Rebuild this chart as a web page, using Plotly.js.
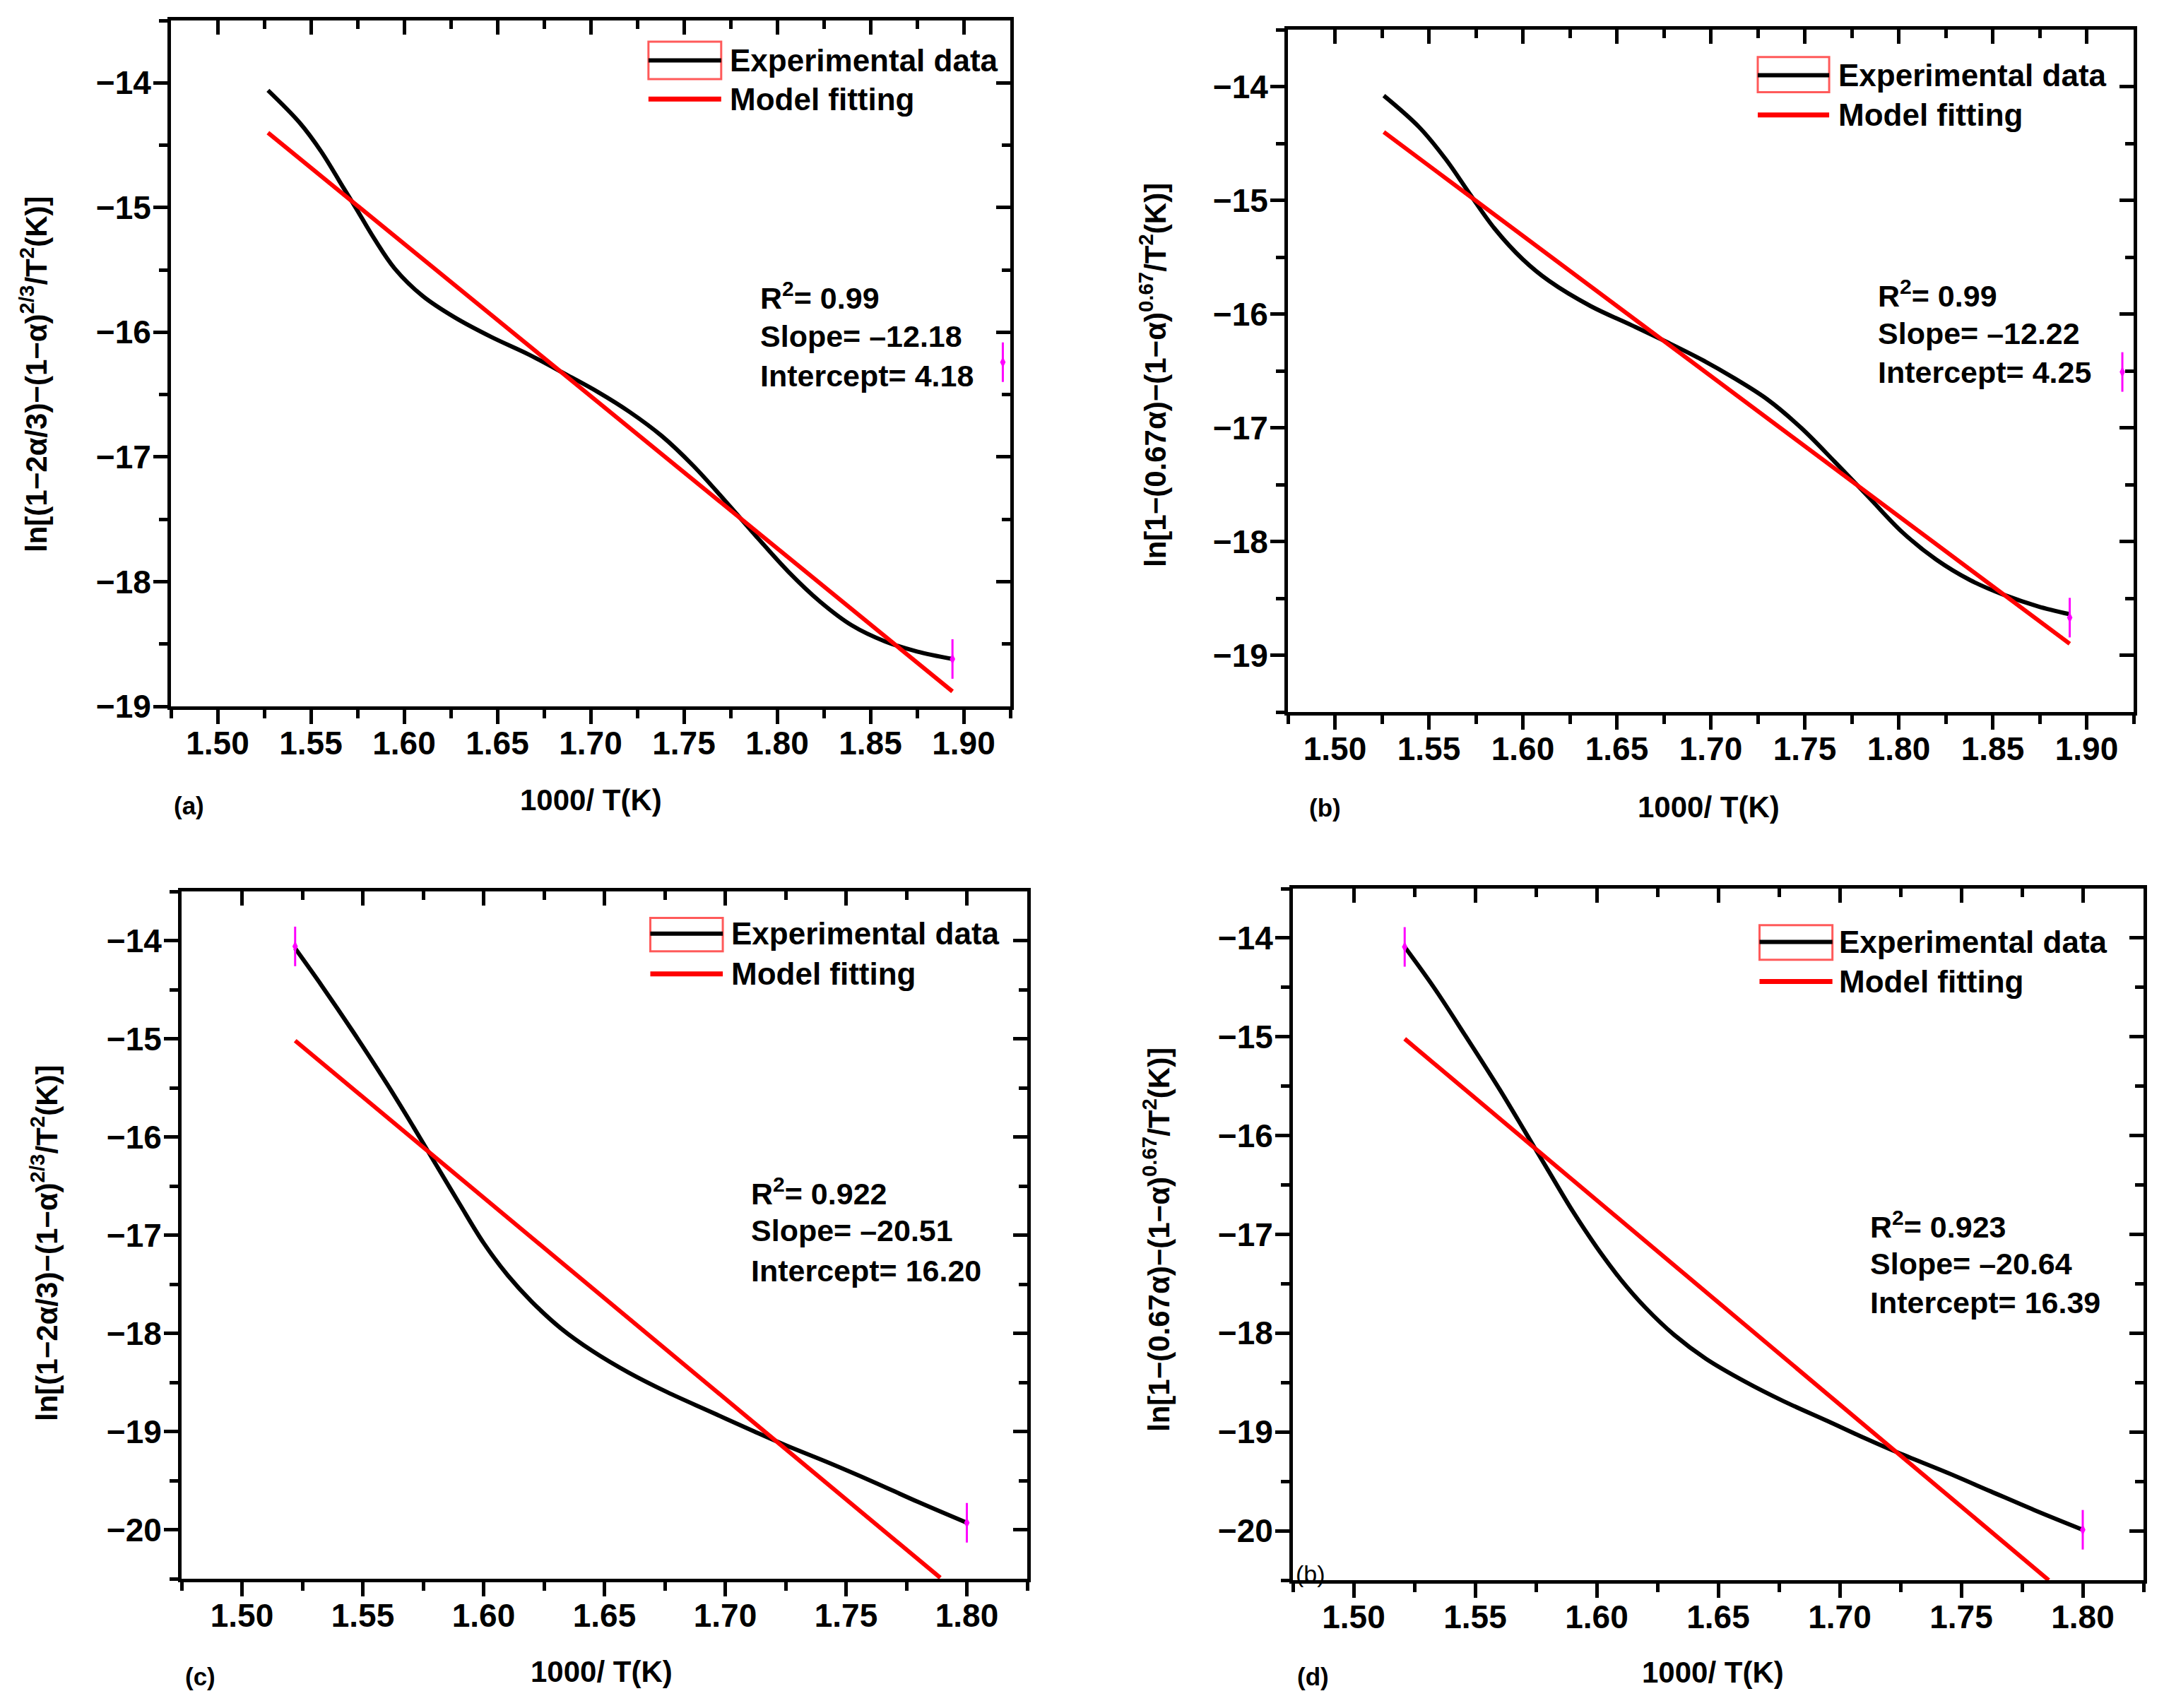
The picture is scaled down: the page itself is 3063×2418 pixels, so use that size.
<!DOCTYPE html>
<html>
<head>
<meta charset="utf-8">
<script src="https://cdn.plot.ly/plotly-3.0.1.min.js"></script>
<style>
  html, body { margin: 0; padding: 0; background: #fff; }
  #chart { width: 3063px; height: 2418px; }
</style>
</head>
<body>
<div id="chart"></div>
<script>
// four kinetic-model fits, Origin-style panels (a)-(d)

// ── data ──
const aX = [1.527, 1.544, 1.5555, 1.567, 1.574, 1.584, 1.595, 1.610, 1.627, 1.647, 1.667, 1.687, 1.704, 1.721, 1.738, 1.755, 1.772, 1.789, 1.806, 1.823, 1.840, 1.858, 1.875, 1.894];
const aExp = [-14.06, -14.32, -14.55, -14.83, -15.00, -15.25, -15.49, -15.71, -15.88, -16.04, -16.18, -16.34, -16.48, -16.64, -16.83, -17.07, -17.35, -17.64, -17.92, -18.16, -18.35, -18.48, -18.56, -18.62];
const aFitX = [1.527, 1.894];
const aFit = [-14.40, -18.88];
const aMarkX = [1.894, 1.921];
const aMarkY = [-18.62, -16.24];

const bX = [1.526, 1.545, 1.559, 1.572, 1.585, 1.600, 1.614, 1.636, 1.658, 1.677, 1.695, 1.712, 1.730, 1.748, 1.766, 1.784, 1.802, 1.820, 1.838, 1.856, 1.874, 1.891];
const bExp = [-14.08, -14.36, -14.64, -14.95, -15.25, -15.52, -15.71, -15.93, -16.10, -16.25, -16.40, -16.56, -16.75, -17.00, -17.30, -17.61, -17.92, -18.16, -18.34, -18.47, -18.57, -18.64];
const bFitX = [1.526, 1.891];
const bFit = [-14.40, -18.90];
const bMarkX = [1.891, 1.919];
const bMarkY = [-18.67, -16.51];

const cX = [1.522, 1.533, 1.546, 1.560, 1.571, 1.580, 1.590, 1.600, 1.610, 1.620, 1.632, 1.645, 1.660, 1.676, 1.694, 1.712, 1.725, 1.743, 1.761, 1.780, 1.800];
const cExp = [-14.08, -14.46, -14.93, -15.46, -15.90, -16.27, -16.68, -17.08, -17.41, -17.68, -17.95, -18.18, -18.40, -18.60, -18.80, -19.00, -19.14, -19.32, -19.51, -19.72, -19.93];
const cFitX = [1.522, 1.789];
const cFit = [-15.02, -20.49];
const cMarkX = [1.522, 1.800];
const cMarkY = [-14.06, -19.93];

const dX = [1.521, 1.533, 1.546, 1.560, 1.571, 1.580, 1.590, 1.600, 1.610, 1.620, 1.632, 1.645, 1.661, 1.677, 1.695, 1.710, 1.724, 1.744, 1.762, 1.780, 1.800];
const dExp = [-14.09, -14.50, -14.99, -15.53, -15.98, -16.35, -16.76, -17.13, -17.46, -17.74, -18.02, -18.26, -18.49, -18.69, -18.89, -19.06, -19.21, -19.41, -19.60, -19.79, -19.99];
const dFitX = [1.521, 1.786];
const dFit = [-15.02, -20.50];
const dMarkX = [1.521, 1.800];
const dMarkY = [-14.09, -19.99];

const stats = {
  a: ['0.99', '–12.18', '4.18'],
  b: ['0.99', '–12.22', '4.25'],
  c: ['0.922', '–20.51', '16.20'],
  d: ['0.923', '–20.64', '16.39'],
};
const Y_TITLE_23 = 'ln[(1−2α/3)−(1−α)<sup>2/3</sup>/T<sup>2</sup>(K)]';
const Y_TITLE_067 = 'ln[1−(0.67α)−(1−α)<sup>0.67</sup>/T<sup>2</sup>(K)]';
const X_TITLE = '1000/ T(K)';

// ── style ──
const W = 3063, H = 2418;
const FONT = 'Liberation Sans, Arial, sans-serif';
const RED = '#ff0000';
const MAGENTA = '#ff00ff';
const AX_W = 5;

// panel geometry (paper px) + where legend/stats sit (data coords)
const panels = [
  { id: 'a', n: 1, x: aX, exp: aExp, fx: aFitX, fit: aFit, mx: aMarkX, my: aMarkY,
    box: [242, 1430, 29, 1000], xr: [1.475, 1.925], yr: [-19, -13.5], yTitle: Y_TITLE_23,
    leg: { x0: 1.731, x1: 1.770, y0: -13.97, y1: -13.67, yb: -13.82, yr: -14.13, tx: 1.774 },
    st: { x: 1.790, ys: [-15.71, -16.03, -16.35] },
    xt: [836, 1132], yt: [48, 530], lab: [267, 1140] },
  { id: 'b', n: 2, x: bX, exp: bExp, fx: bFitX, fit: bFit, mx: bMarkX, my: bMarkY,
    box: [1823, 3020, 42, 1008], xr: [1.475, 1.925], yr: [-19.5, -13.5], yTitle: Y_TITLE_067,
    leg: { x0: 1.725, x1: 1.763, y0: -14.05, y1: -13.74, yb: -13.90, yr: -14.25, tx: 1.767 },
    st: { x: 1.788, ys: [-15.82, -16.17, -16.51] },
    xt: [2418, 1142], yt: [1632, 531], lab: [1875, 1143] },
  { id: 'c', n: 3, x: cX, exp: cExp, fx: cFitX, fit: cFit, mx: cMarkX, my: cMarkY,
    box: [257, 1454, 1262, 2235], xr: [1.475, 1.825], yr: [-20.5, -13.5], yTitle: Y_TITLE_23,
    leg: { x0: 1.669, x1: 1.699, y0: -14.11, y1: -13.77, yb: -13.93, yr: -14.34, tx: 1.702 },
    st: { x: 1.710, ys: [-16.56, -16.95, -17.36] },
    xt: [851, 2366], yt: [63, 1760], lab: [283, 2373] },
  { id: 'd', n: 4, x: dX, exp: dExp, fx: dFitX, fit: dFit, mx: dMarkX, my: dMarkY,
    box: [1830, 3034, 1258, 2237], xr: [1.475, 1.825], yr: [-20.5, -13.5], yTitle: Y_TITLE_067,
    leg: { x0: 1.667, x1: 1.697, y0: -14.22, y1: -13.87, yb: -14.04, yr: -14.44, tx: 1.699 },
    st: { x: 1.712, ys: [-16.90, -17.30, -17.69] },
    xt: [2424, 2367], yt: [1637, 1755], lab: [1858, 2373] },
];

const px = v => v / W;
const py = v => 1 - v / H;
const tickFont = { family: FONT, size: 46, color: '#000', weight: 'bold' };

function axisBase(range, dtick, minorDtick, ticks) {
  const t0 = dtick === 1 ? 0 : 1.5;
  return {
    range, autorange: false, tick0: t0, dtick,
    ticks, ticklen: 20, tickwidth: AX_W, tickcolor: '#000',
    minor: { dtick: minorDtick, tick0: t0, ticks, ticklen: 12, tickwidth: AX_W, tickcolor: '#000', showgrid: false },
    showline: true, linewidth: AX_W, linecolor: '#000',
    showgrid: false, zeroline: false, fixedrange: true,
  };
}

const traces = [];
const layout = {
  width: W, height: H,
  margin: { l: 0, r: 0, t: 0, b: 0, pad: 0 },
  paper_bgcolor: '#fff', plot_bgcolor: '#fff',
  showlegend: false,
  font: { family: FONT, color: '#000' },
  shapes: [], annotations: [],
};

panels.forEach(p => {
  const k = p.n === 1 ? '' : p.n;
  const xa = 'x' + k, ya = 'y' + k;
  const xTop = 'x' + (p.n + 4), yRight = 'y' + (p.n + 4);
  const [l, r, t, b] = p.box;

  layout['xaxis' + k] = {
    ...axisBase(p.xr, 0.05, 0.025, 'outside'),
    domain: [px(l), px(r)], anchor: ya, tickformat: '.2f',
    tickfont: tickFont, ticklabelstandoff: -12,
  };
  layout['yaxis' + k] = {
    ...axisBase(p.yr, 1, 0.5, 'outside'),
    domain: [py(b), py(t)], anchor: xa, tickformat: 'd',
    tickfont: tickFont, ticklabelstandoff: -6,
  };
  // mirrored frame: ticks point inward on top / right
  layout['xaxis' + (p.n + 4)] = {
    ...axisBase(p.xr, 0.05, 0.025, 'inside'),
    overlaying: xa, anchor: ya, side: 'top', showticklabels: false,
  };
  layout['yaxis' + (p.n + 4)] = {
    ...axisBase(p.yr, 1, 0.5, 'inside'),
    overlaying: ya, anchor: xa, side: 'right', showticklabels: false,
  };

  traces.push({ type: 'scatter', x: [], y: [], xaxis: xTop, yaxis: ya, hoverinfo: 'skip' });
  traces.push({ type: 'scatter', x: [], y: [], xaxis: xa, yaxis: yRight, hoverinfo: 'skip' });

  traces.push({
    type: 'scatter', mode: 'lines', x: p.x, y: p.exp, xaxis: xa, yaxis: ya,
    name: 'Experimental data', line: { color: '#000', width: 6, shape: 'spline', smoothing: 1 },
  });
  traces.push({
    type: 'scatter', mode: 'lines', x: p.fx, y: p.fit, xaxis: xa, yaxis: ya,
    name: 'Model fitting', line: { color: RED, width: 6 },
  });
  traces.push({
    type: 'scatter', mode: 'markers', x: p.mx, y: p.my, xaxis: xa, yaxis: ya,
    marker: { symbol: 'line-ns-open', size: 40, color: MAGENTA, line: { color: MAGENTA, width: 3 } },
    cliponaxis: false,
  });
  traces.push({
    type: 'scatter', mode: 'markers', x: p.mx, y: p.my, xaxis: xa, yaxis: ya,
    marker: { symbol: 'diamond-tall', size: 11, color: MAGENTA },
    cliponaxis: false,
  });

  // hand-made legend (Origin look: red frame round the black line sample)
  const g = p.leg;
  layout.shapes.push(
    { type: 'rect', xref: xa, yref: ya, x0: g.x0, x1: g.x1, y0: g.y0, y1: g.y1, line: { color: '#ff5a5a', width: 3 } },
    { type: 'line', xref: xa, yref: ya, x0: g.x0, x1: g.x1, y0: g.yb, y1: g.yb, line: { color: '#000', width: 6 } },
    { type: 'line', xref: xa, yref: ya, x0: g.x0, x1: g.x1, y0: g.yr, y1: g.yr, line: { color: RED, width: 7 } },
  );
  const legFont = { family: FONT, size: 44, color: '#000', weight: 'bold' };
  layout.annotations.push(
    { xref: xa, yref: ya, x: g.tx, y: g.yb, text: 'Experimental data', showarrow: false, xanchor: 'left', yanchor: 'middle', font: legFont },
    { xref: xa, yref: ya, x: g.tx, y: g.yr, text: 'Model fitting', showarrow: false, xanchor: 'left', yanchor: 'middle', font: legFont },
  );

  // fit statistics
  const s = stats[p.id];
  const stFont = { family: FONT, size: 43, color: '#000', weight: 'bold' };
  [`R<sup>2</sup>= ${s[0]}`, `Slope= ${s[1]}`, `Intercept= ${s[2]}`].forEach((txt, i) => {
    layout.annotations.push({ xref: xa, yref: ya, x: p.st.x, y: p.st.ys[i], text: txt, showarrow: false, xanchor: 'left', yanchor: 'middle', font: stFont });
  });

  // axis titles and panel letter
  layout.annotations.push(
    { xref: 'paper', yref: 'paper', x: px(p.xt[0]), y: py(p.xt[1]), text: X_TITLE, showarrow: false, xanchor: 'center', yanchor: 'middle',
      font: { family: FONT, size: 42, color: '#000', weight: 'bold' } },
    { xref: 'paper', yref: 'paper', x: px(p.yt[0]), y: py(p.yt[1]), text: p.yTitle, textangle: -90, showarrow: false, xanchor: 'center', yanchor: 'middle',
      font: { family: FONT, size: 42, color: '#000', weight: 'bold' } },
    { xref: 'paper', yref: 'paper', x: px(p.lab[0]), y: py(p.lab[1]), text: `(${p.id})`, showarrow: false, xanchor: 'center', yanchor: 'middle',
      font: { family: FONT, size: 35, color: '#000', weight: 'bold' } },
  );
});

// stray "(b)" label left in panel (d) of the original figure
layout.annotations.push({ xref: 'paper', yref: 'paper', x: px(1855), y: py(2228), text: '(b)', showarrow: false, xanchor: 'center', yanchor: 'middle',
  font: { family: FONT, size: 34, color: '#000' } });

Plotly.newPlot('chart', traces, layout, { displayModeBar: false, staticPlot: true });
</script>
</body>
</html>
